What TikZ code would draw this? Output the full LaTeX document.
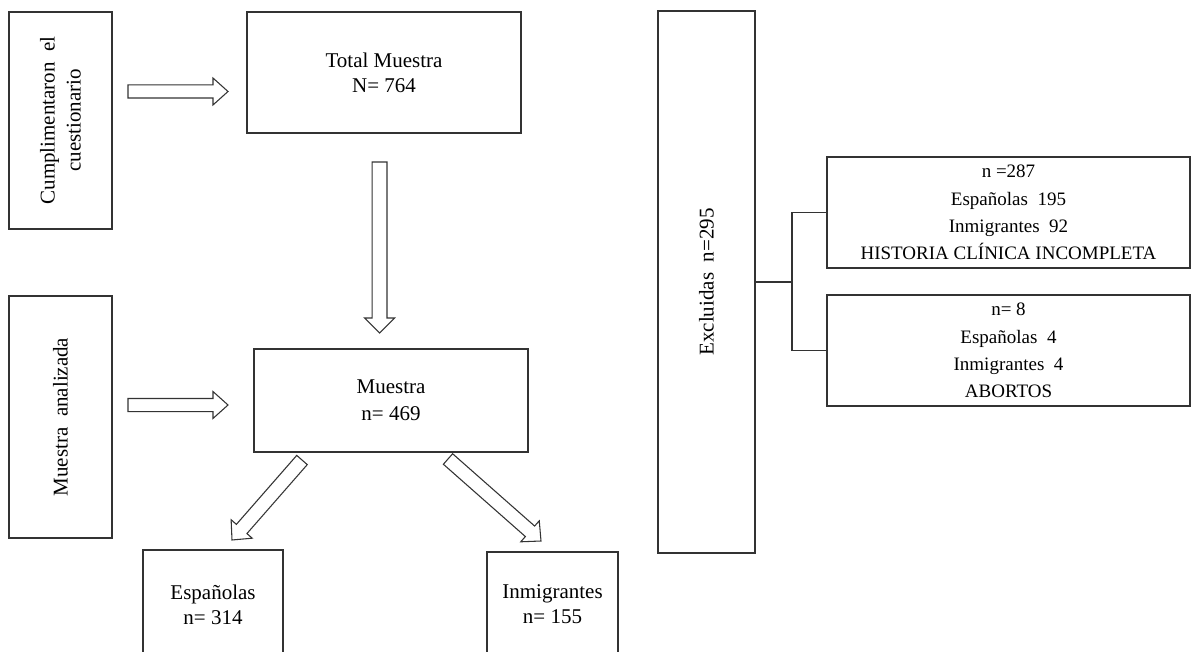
\documentclass[tikz,border=0pt]{standalone}
\usepackage{fontspec}
\setmainfont{Liberation Serif}
\usetikzlibrary{calc}
\tikzset{
  box/.style={draw=black!80, line width=0.9pt, inner sep=0pt, align=center, font=\fontsize{15.75}{19.5}\selectfont},
  rbox/.style={box, font=\fontsize{14.25}{20.5}\selectfont},
  barrow/.style={draw=black!80, line width=0.8pt, fill=white, line join=miter},
  conn/.style={draw=black!80, line width=0.9pt},
}
\newcommand\blockarrow[5]{%
  \coordinate (tmpH) at ($(#2)!#5!(#1)$);
  \draw[barrow] ($(#1)!#3!-90:(#2)$) -- ($(tmpH)!#3!-90:(#2)$) -- ($(tmpH)!#4!-90:(#2)$) -- (#2) -- ($(tmpH)!#4!90:(#2)$) -- ($(tmpH)!#3!90:(#2)$) -- ($(#1)!#3!90:(#2)$) -- cycle;
}
\begin{document}
\begin{tikzpicture}[x=0.75pt,y=-0.75pt]
\useasboundingbox (0,0) rectangle (1192,652);
\clip (0,0) rectangle (1192,652);
\fill[white] (0,0) rectangle (1192,652);

% left label boxes
\node[box, rotate=90, minimum width=162.75pt, minimum height=77.25pt] (cum) at (60.5,120.5) {Cumplimentaron~ el\\cuestionario};
\node[box, rotate=90, minimum width=181.5pt, minimum height=77.25pt] (mana) at (60.5,417) {Muestra~ analizada};

% main boxes
\node[box, minimum width=205.5pt, minimum height=90.75pt, font=\fontsize{15.75}{18.75}\selectfont] (total) at (384,72.5) {Total Muestra\\N= 764};
\node[box, minimum width=205.5pt, minimum height=77.25pt, font=\fontsize{15.75}{20.25}\selectfont] (muestra) at (391,400.5) {Muestra\\n= 469};
\node[box, minimum width=105pt, minimum height=81.75pt, font=\fontsize{15.75}{18.75}\selectfont] (esp) at (213,604.5) {Españolas\\n= 314};
\node[box, minimum width=98.25pt, minimum height=78.75pt, font=\fontsize{15.75}{18.75}\selectfont] (inm) at (552.5,604.5) {Inmigrantes\\n= 155};

% excluded
\node[box, rotate=90, minimum width=406.5pt, minimum height=72.75pt] (excl) at (706.5,282) {Excluidas~ n=295};
\node[rbox, minimum width=272.25pt, minimum height=83.25pt] (hc) at (1008.5,212.5) {n =287\\Españolas~ 195\\Inmigrantes~ 92\\HISTORIA CLÍNICA INCOMPLETA};
\node[rbox, minimum width=272.25pt, minimum height=83.25pt] (ab) at (1008.5,350.5) {n= 8\\Españolas~ 4\\Inmigrantes~ 4\\ABORTOS};

% bracket connector
\coordinate (bx) at (792,282);
\draw[conn] (excl.south) -- (bx);
\draw[conn] (hc.west) -| (bx) |- (ab.west);

% block arrows
\coordinate (a1s) at (128,91.5);  \coordinate (a1e) at (228,91.5);
\coordinate (a2s) at (128,405);   \coordinate (a2e) at (228,405);
\coordinate (a3s) at (379.5,162); \coordinate (a3e) at (379.5,333);
\coordinate (a4s) at (302,460);   \coordinate (a4e) at (232,540);
\coordinate (a5s) at (448,459);   \coordinate (a5e) at (541,541);
\blockarrow{a1s}{a1e}{4.9pt}{10.1pt}{11.25pt}
\blockarrow{a2s}{a2e}{4.9pt}{10.1pt}{11.25pt}
\blockarrow{a3s}{a3e}{5.6pt}{11.25pt}{11.25pt}
\blockarrow{a4s}{a4e}{5.25pt}{10.5pt}{11pt}
\blockarrow{a5s}{a5e}{5.25pt}{10.5pt}{11pt}
\end{tikzpicture}
\end{document}
